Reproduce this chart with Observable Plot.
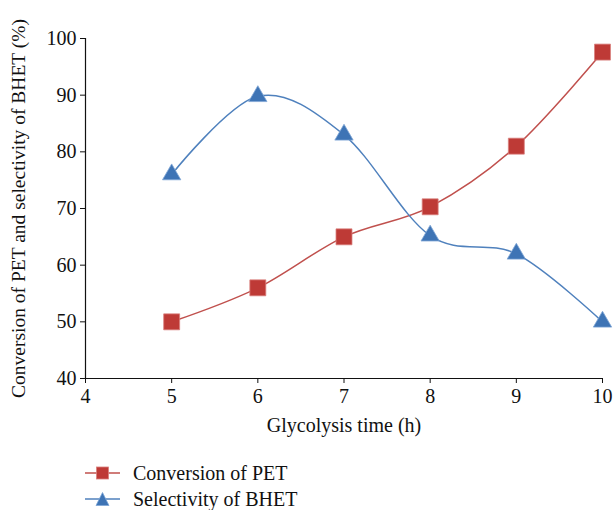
<!DOCTYPE html>
<html>
<head>
<meta charset="utf-8">
<script src="https://cdn.jsdelivr.net/npm/d3@7"></script>
<script src="https://cdn.jsdelivr.net/npm/@observablehq/plot@0.6"></script>
<style>
  body { margin: 0; background: #fff; font-family: "Liberation Serif", "DejaVu Serif", serif; }
  #chart svg { display: block; }
  .legend { position: relative; height: 60px; }
  .legend .item { position: absolute; left: 85px; display: flex; align-items: center; font-size: 20px; line-height: 22px; color: #111; white-space: nowrap; }
  .legend svg { margin-right: 13px; }
</style>
</head>
<body>
<div id="chart"></div>
<div class="legend" id="legend"></div>
<script>
const times = [5, 6, 7, 8, 9, 10];
const conversionPET = [50, 56, 65, 70.3, 81, 97.6];
const selectivityBHET = [76, 89.8, 83, 65.2, 62, 50];
const xTicks = [4, 5, 6, 7, 8, 9, 10];
const yTicks = [40, 50, 60, 70, 80, 90, 100];
const xLabel = "Glycolysis time (h)";
const yLabel = "Conversion of PET and selectivity of BHET (%)";
const seriesNames = ["Conversion of PET", "Selectivity of BHET"];
const seriesColors = ["#C0504D", "#4F81BD"];
const markerFill = ["#BE3A36", "#3E74B5"];

const conv = times.map((t, i) => ({t, v: conversionPET[i]}));
const sel = times.map((t, i) => ({t, v: selectivityBHET[i]}));
const smooth = d3.curveCatmullRom.alpha(0);

const chart = Plot.plot({
  width: 614,
  height: 450,
  marginLeft: 85,
  marginRight: 12,
  marginTop: 38,
  marginBottom: 72,
  style: {fontFamily: "'Liberation Serif', 'DejaVu Serif', serif", fontSize: "20px", color: "#111", background: "#fff"},
  x: {domain: [4, 10]},
  y: {domain: [40, 100]},
  marks: [
    Plot.ruleY([40], {stroke: "#111", strokeWidth: 1.2}),
    Plot.ruleX([4], {stroke: "#111", strokeWidth: 1.2}),
    Plot.axisX({ticks: xTicks, tickSize: 5, tickPadding: 5, tickFormat: d => d, fontSize: 20, label: null}),
    Plot.axisY({ticks: yTicks, tickSize: 5, tickPadding: 4, tickFormat: d => d, fontSize: 20, label: null}),
    Plot.text([xLabel], {frameAnchor: "bottom", dy: 53, fontSize: 20, fill: "#111"}),
    Plot.text([yLabel], {frameAnchor: "left", textAnchor: "middle", rotate: -90, dx: -67, fontSize: 19.5, fill: "#111"}),
    Plot.line(conv, {x: "t", y: "v", stroke: seriesColors[0], strokeWidth: 1.5, curve: smooth}),
    Plot.line(sel, {x: "t", y: "v", stroke: seriesColors[1], strokeWidth: 1.5, curve: smooth}),
    Plot.dot(conv, {x: "t", y: "v", symbol: "square", r: 9, fill: markerFill[0], stroke: "#D9807D", strokeWidth: 0.8}),
    Plot.dot(sel, {x: "t", y: "v", symbol: "triangle", r: 6.8, fill: markerFill[1], stroke: "#7FA6D6", strokeWidth: 0.8})
  ]
});
document.getElementById("chart").append(chart);

const legend = document.getElementById("legend");
seriesNames.forEach((name, i) => {
  const item = document.createElement("div");
  item.className = "item";
  item.style.top = (i === 0 ? 23 : 49) + "px";
  const sym = i === 0
    ? `<rect x="11.5" y="1" width="12" height="12" fill="${markerFill[0]}" stroke="#D9807D" stroke-width="0.8"/>`
    : `<path d="M17.5,0.5 L24,13.5 L11,13.5 Z" fill="${markerFill[1]}" stroke="#7FA6D6" stroke-width="0.8"/>`;
  item.innerHTML = `<svg width="35" height="14" viewBox="0 0 35 14"><line x1="0" y1="7" x2="35" y2="7" stroke="${seriesColors[i]}" stroke-width="1.5"/>${sym}</svg><span>${name}</span>`;
  item.style.transform = "translateY(-50%)";
  legend.append(item);
});
</script>
</body>
</html>
